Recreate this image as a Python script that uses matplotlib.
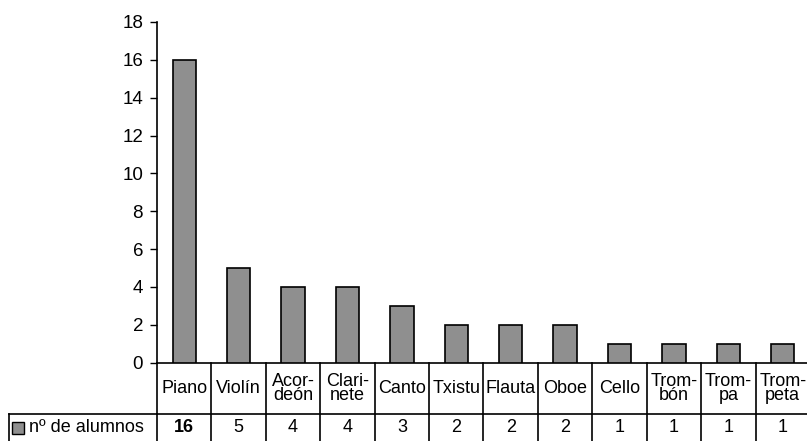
import matplotlib
matplotlib.use("Agg")
import matplotlib.pyplot as plt
import matplotlib.transforms as mtransforms
from matplotlib.patches import Rectangle

plt.rcParams['font.family'] = ['Liberation Sans', 'DejaVu Sans']

# datos
instrumentos = ["Piano", "Violín", "Acor-\ndeón", "Clari-\nnete", "Canto", "Txistu",
                "Flauta", "Oboe", "Cello", "Trom-\nbón", "Trom-\npa", "Trom-\npeta"]
alumnos = [16, 5, 4, 4, 3, 2, 2, 2, 1, 1, 1, 1]
serie = "nº de alumnos"
yticks = [0, 2, 4, 6, 8, 10, 12, 14, 16, 18]

W, H = 807, 441
fig = plt.figure(figsize=(W / 100, H / 100), dpi=100)
x0, x1 = 157, 810
ytop, ybot = 22, 362.7
ax = fig.add_axes([x0 / W, 1 - ybot / H, (x1 - x0) / W, (ybot - ytop) / H])

gris = '#8f8f8f'
fs = 13
xs = list(range(len(alumnos)))
ax.bar(xs, alumnos, width=0.43, color=gris, edgecolor='black', linewidth=1.2, zorder=3)

ax.set_xlim(-0.5, len(alumnos) - 0.5)
ax.set_ylim(0, 18)
ax.set_yticks(yticks)
ax.tick_params(axis='y', direction='out', length=5, width=1, labelsize=13.5, pad=5)
ax.set_xticks([])
for s in ['top', 'right', 'bottom']:
    ax.spines[s].set_visible(False)
ax.spines['left'].set_linewidth(1.2)

# tabla de datos debajo
px = 1.0 / (ybot - ytop)  # un pixel en coordenadas del eje
r1 = -(414.3 - ybot) * px
r2 = -(445 - ybot) * px
tr = mtransforms.blended_transform_factory(ax.transData, ax.transAxes)
tra = ax.transAxes
lw = 1.2
n = len(alumnos)

# lineas horizontales
ax.plot([-0.5, n - 0.5], [0, 0], transform=tr, color='black', lw=lw, clip_on=False)
ax.plot([-0.5, n - 0.5], [r1, r1], transform=tr, color='black', lw=lw, clip_on=False)
xl = (9 - x0) / (x1 - x0)  # borde izquierdo de la celda de la leyenda
ax.plot([xl, 0], [r1, r1], transform=tra, color='black', lw=lw, clip_on=False)
ax.plot([xl, xl], [r1, r2], transform=tra, color='black', lw=lw, clip_on=False)
# lineas verticales
for i in range(n + 1):
    ax.plot([i - 0.5, i - 0.5], [0, r2], transform=tr, color='black', lw=lw, clip_on=False)

ymid = (r1 + (-(441 - ybot) * px)) / 2
for i, (lab, v) in enumerate(zip(instrumentos, alumnos)):
    ax.text(i, r1 / 2, lab, transform=tr, ha='center', va='center', fontsize=fs,
            linespacing=0.82)
    ax.text(i, ymid, str(v), transform=tr, ha='center',
            va='center', fontsize=fs, fontweight='bold' if v == 16 else 'normal')

# leyenda en la tabla
sw = 12 / (x1 - x0)
sh = 12 * px
ax.add_patch(Rectangle(((12 - x0) / (x1 - x0), ymid - sh / 2), sw, sh, transform=tra,
                       facecolor=gris, edgecolor='black', lw=1, clip_on=False))
ax.text((29 - x0) / (x1 - x0), ymid, serie, transform=tra, ha='left', va='center',
        fontsize=fs)

fig.savefig('out.png', dpi=100)
